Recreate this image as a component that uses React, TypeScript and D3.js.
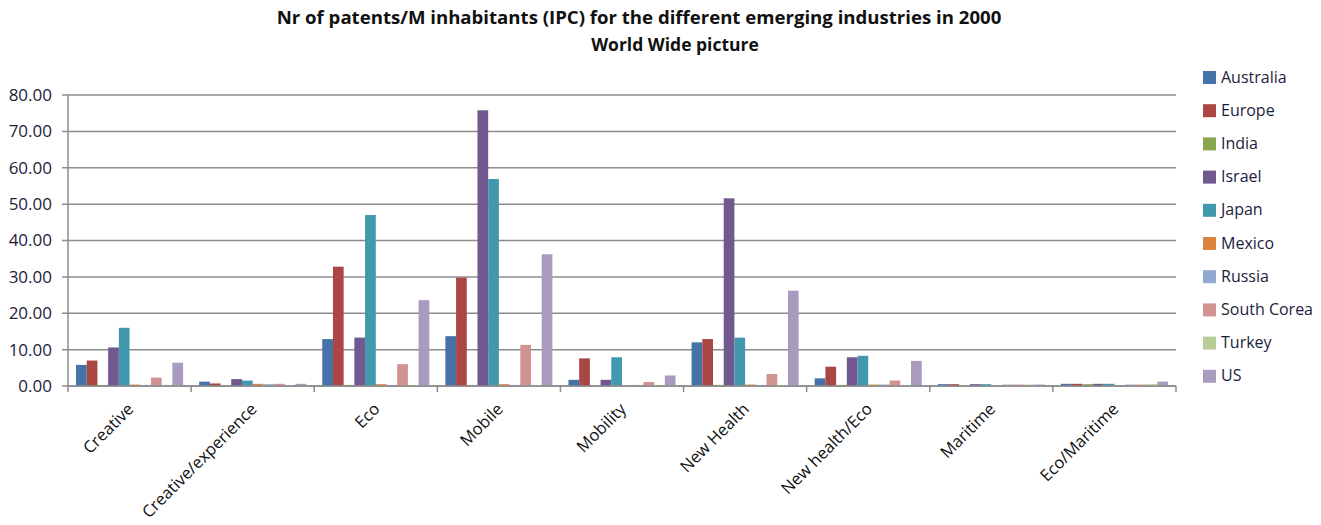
import { useMemo } from "react";
import { scaleBand, scaleLinear } from "d3";

const categories = [
  "Creative",
  "Creative/experience",
  "Eco",
  "Mobile",
  "Mobility",
  "New Health",
  "New health/Eco",
  "Maritime",
  "Eco/Maritime",
];

const countries = [
  "Australia",
  "Europe",
  "India",
  "Israel",
  "Japan",
  "Mexico",
  "Russia",
  "South Corea",
  "Turkey",
  "US",
];

const colors = [
  "#4572A7",
  "#AA4643",
  "#89A54E",
  "#71588F",
  "#4198AF",
  "#DB843D",
  "#93A9CF",
  "#D19392",
  "#B9CD96",
  "#A99BBD",
];

// one row per country, one value per category
const australia = [5.8, 1.2, 12.9, 13.7, 1.7, 12.0, 2.1, 0.5, 0.6];
const europe = [7.0, 0.7, 32.8, 29.8, 7.6, 12.9, 5.3, 0.5, 0.6];
const india = [0.3, 0.1, 0.3, 0.3, 0.1, 0.3, 0.3, 0.1, 0.5];
const israel = [10.6, 1.9, 13.3, 75.8, 1.7, 51.6, 7.9, 0.5, 0.6];
const japan = [16.0, 1.5, 47.0, 56.9, 7.9, 13.3, 8.3, 0.5, 0.6];
const mexico = [0.4, 0.6, 0.5, 0.5, 0.1, 0.4, 0.4, 0.1, 0.1];
const russia = [0.3, 0.5, 0.3, 0.3, 0.3, 0.3, 0.4, 0.4, 0.4];
const southCorea = [2.3, 0.6, 6.0, 11.3, 1.1, 3.3, 1.5, 0.4, 0.4];
const turkey = [0.3, 0.0, 0.3, 0.3, 0.3, 0.3, 0.3, 0.4, 0.5];
const us = [6.4, 0.6, 23.6, 36.2, 2.9, 26.2, 6.9, 0.4, 1.2];

const series = [australia, europe, india, israel, japan, mexico, russia, southCorea, turkey, us];

const yTicks = [0, 10, 20, 30, 40, 50, 60, 70, 80];

const width = 1321;
const height = 525;
const margin = { top: 95, right: 145, bottom: 139, left: 68 };
const font = "'Open Sans', 'Liberation Sans', sans-serif";
const textColor = "#1c1c3c";

export default function App() {
  const { x, inner, y } = useMemo(() => {
    const x = scaleBand<string>()
      .domain(categories)
      .range([margin.left, width - margin.right]);
    const inner = scaleBand<string>()
      .domain(countries)
      .range([0, x.bandwidth()])
      .paddingInner(0)
      .paddingOuter(0.75);
    const y = scaleLinear()
      .domain([0, 80])
      .range([height - margin.bottom, margin.top]);
    return { x, inner, y };
  }, []);

  const y0 = y(0);
  const plotRight = width - margin.right;

  return (
    <svg
      width={width}
      height={height}
      viewBox={`0 0 ${width} ${height}`}
      style={{ position: "absolute", left: 0, top: 0, background: "#fff" }}
      fontFamily={font}
    >
      <text x={639} y={24} textAnchor="middle" fontWeight="bold" fontSize={18.6} fill="#111">
        Nr of patents/M inhabitants (IPC) for the different emerging industries in 2000
      </text>
      <text x={675} y={51} textAnchor="middle" fontWeight="bold" fontSize={17.5} fill="#111">
        World Wide picture
      </text>

      {yTicks.map((t) => (
        <g key={`y-${t}`}>
          <line
            x1={margin.left - 6}
            x2={plotRight}
            y1={y(t)}
            y2={y(t)}
            stroke="#8c8c8c"
            strokeWidth={1.5}
          />
          <text
            x={52}
            y={y(t)}
            dy="0.35em"
            textAnchor="end"
            fontSize={17}
            fill={textColor}
          >
            {t.toFixed(2)}
          </text>
        </g>
      ))}

      {categories.map((c, ci) => (
        <g key={c} transform={`translate(${x(c)},0)`}>
          {series.map((vals, si) => (
            <rect
              key={countries[si]}
              x={inner(countries[si])}
              y={y(vals[ci])}
              width={inner.bandwidth()}
              height={y0 - y(vals[ci])}
              fill={colors[si]}
            />
          ))}
        </g>
      ))}

      <line x1={margin.left} x2={margin.left} y1={y(80)} y2={y0} stroke="#8c8c8c" strokeWidth={1.5} />
      <line x1={margin.left} x2={plotRight} y1={y0} y2={y0} stroke="#8c8c8c" strokeWidth={1.5} />
      {[...categories.map((c) => x(c) as number), plotRight].map((px) => (
        <line key={`t-${px}`} x1={px} x2={px} y1={y0} y2={y0 + 6} stroke="#8c8c8c" strokeWidth={1.5} />
      ))}

      {categories.map((c) => {
        const cx = (x(c) as number) + x.bandwidth() / 2 + 1;
        const cy = y0 + 20;
        return (
          <text
            key={`xl-${c}`}
            transform={`translate(${cx},${cy}) rotate(-45)`}
            textAnchor="end"
            dy="0.35em"
            fontSize={16.5}
            fill="#111"
          >
            {c}
          </text>
        );
      })}

      {countries.map((name, i) => {
        const ly = 77 + i * 33.2;
        return (
          <g key={`lg-${name}`} transform={`translate(1203,${ly})`}>
            <rect x={0} y={-6} width={13} height={13} fill={colors[i]} />
            <text x={18} y={0} dy="0.35em" fontSize={16} fill={textColor}>
              {name}
            </text>
          </g>
        );
      })}
    </svg>
  );
}
